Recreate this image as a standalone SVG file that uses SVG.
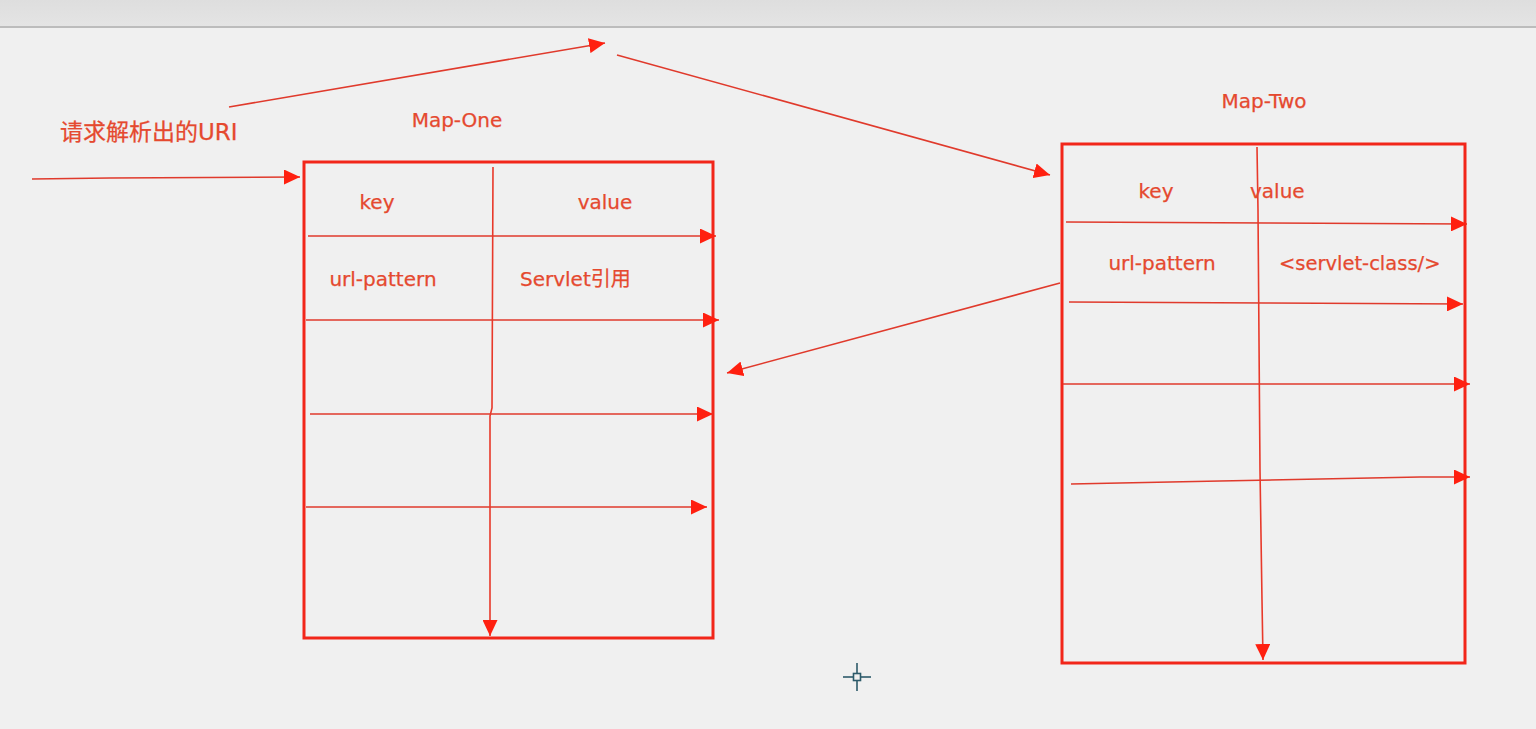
<svg xmlns="http://www.w3.org/2000/svg" width="1536" height="729" viewBox="0 0 1536 729">
  <style>
    .box { fill: none; stroke: #f2261a; stroke-width: 3; }
    .ln { fill: none; stroke: #e8392a; stroke-width: 1.6; }
    .arr { fill: none; stroke: #e03a2c; stroke-width: 1.6; marker-end: url(#ah); }
    .t { font-family: "DejaVu Sans", "Noto Sans CJK SC", sans-serif; font-size: 20px; fill: #e5492f; stroke: #e5492f; stroke-width: 0.25; }
  </style>
  <defs>
    <linearGradient id="bar" x1="0" y1="0" x2="0" y2="1">
      <stop offset="0" stop-color="#dedede"/>
      <stop offset="1" stop-color="#e4e4e4"/>
    </linearGradient>
    <marker id="ah" markerUnits="userSpaceOnUse" markerWidth="17" markerHeight="15" refX="16" refY="7.5" orient="auto">
      <path d="M0,0 L16,7.5 L0,15 z" fill="#ff2010"/>
    </marker>
  </defs>

  <rect x="0" y="0" width="1536" height="729" fill="#f0f0f0"/>
  <rect x="0" y="0" width="1536" height="26" fill="url(#bar)"/>
  <line x1="0" y1="27" x2="1536" y2="27" stroke="#bcbcbc" stroke-width="2"/>

  <g id="uri-label">
    <text class="t" x="60" y="140" style="font-size:23px">请求解析出的URI</text>
  </g>

  <g id="map-one">
    <text class="t" x="457" y="127" text-anchor="middle">Map-One</text>
    <rect class="box" x="304" y="162" width="409" height="476"/>
    <line class="arr" x1="308" y1="236" x2="716" y2="236"/>
    <line class="arr" x1="306" y1="320" x2="719" y2="320"/>
    <line class="arr" x1="310" y1="414" x2="713" y2="414"/>
    <line class="arr" x1="306" y1="507" x2="707" y2="507"/>
    <path class="ln" d="M493,167 L492,408 L490,416 L490,636" marker-end="url(#ah)"/>
    <text class="t" x="377" y="209" text-anchor="middle">key</text>
    <text class="t" x="605" y="209" text-anchor="middle">value</text>
    <text class="t" x="383" y="286" text-anchor="middle">url-pattern</text>
    <text class="t" x="520" y="286">Servlet引用</text>
  </g>

  <g id="map-two">
    <text class="t" x="1264" y="108" text-anchor="middle">Map-Two</text>
    <rect class="box" x="1062" y="144" width="403" height="519"/>
    <path class="arr" d="M1066,222 L1268,223 L1467,224"/>
    <path class="arr" d="M1069,302 L1266,303 L1463,304"/>
    <line class="arr" x1="1063" y1="384" x2="1470" y2="384"/>
    <path class="arr" d="M1071,484 L1120,483 L1220,481 L1320,479 L1420,477 L1470,477"/>
    <path class="ln" d="M1257,147 L1258,210 L1260,470 L1262,600 L1263,660" marker-end="url(#ah)"/>
    <text class="t" x="1156" y="198" text-anchor="middle">key</text>
    <text class="t" x="1250" y="198">value</text>
    <text class="t" x="1162" y="270" text-anchor="middle">url-pattern</text>
    <text class="t" x="1279" y="270" style="font-size:19.5px">&lt;servlet-class/&gt;</text>
  </g>

  <g id="connectors">
    <line class="arr" x1="229" y1="107" x2="605" y2="43"/>
    <line class="arr" x1="617" y1="55" x2="1050" y2="175"/>
    <path class="arr" d="M32,179 L110,178 L300,177"/>
    <line class="arr" x1="1060" y1="283" x2="727" y2="373"/>
  </g>

  <g id="cursor" stroke="#2d5a6a" stroke-width="1.6" fill="none">
    <line x1="843" y1="677" x2="853" y2="677"/>
    <line x1="861" y1="677" x2="871" y2="677"/>
    <line x1="857" y1="663" x2="857" y2="673"/>
    <line x1="857" y1="681" x2="857" y2="691"/>
    <rect x="853.5" y="673.5" width="7" height="7"/>
  </g>
</svg>
